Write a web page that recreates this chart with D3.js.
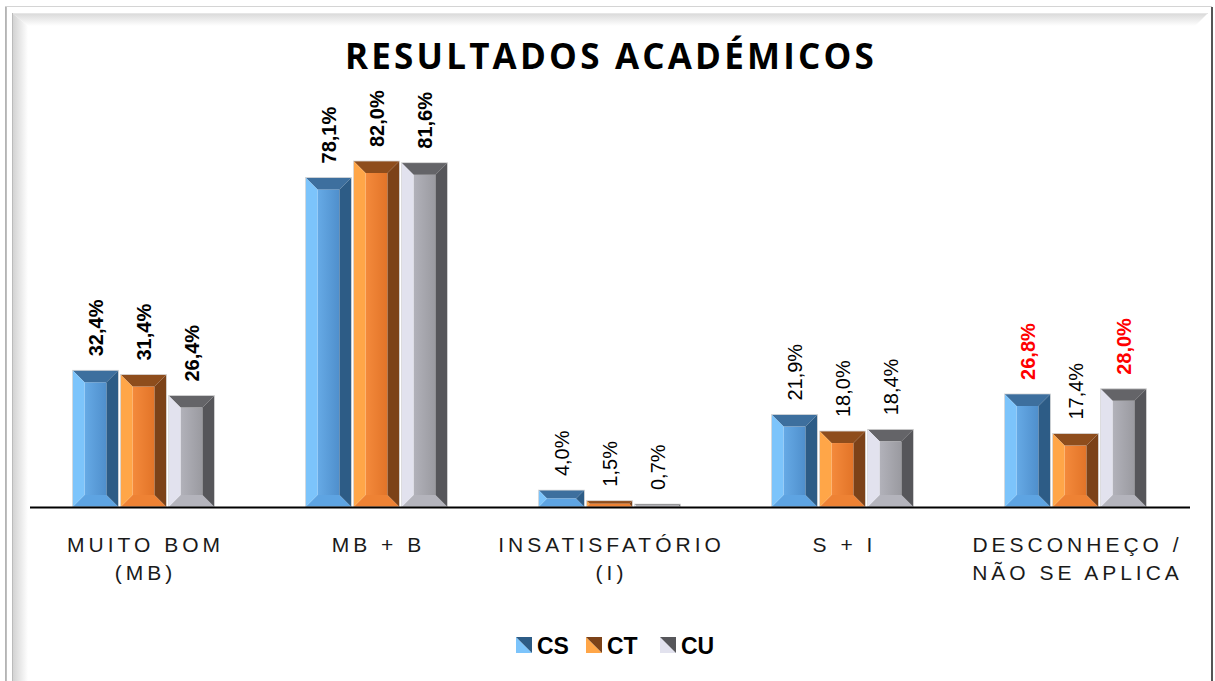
<!DOCTYPE html>
<html><head><meta charset="utf-8">
<script src="https://cdn.jsdelivr.net/npm/d3@7"></script>
<style>html,body{margin:0;padding:0;background:#fff;}svg{display:block;}</style>
</head><body>
<svg id="chart" width="1215" height="681"></svg>
<script>
const categories = [["MUITO BOM","(MB)"],["MB + B"],["INSATISFATÓRIO","(I)"],["S + I"],["DESCONHEÇO /","NÃO SE APLICA"]];
const seriesNames = ["CS","CT","CU"];
const csValues = [32.4, 78.1, 4.0, 21.9, 26.8];
const ctValues = [31.4, 82.0, 1.5, 18.0, 17.4];
const cuValues = [26.4, 81.6, 0.7, 18.4, 28.0];
const boldGroups = [0, 1];
const redLabels = [[4,"CS"],[4,"CU"]];

const values = {CS: csValues, CT: ctValues, CU: cuValues};
const W = 1215, H = 681;
const svg = d3.select("#chart");
const defs = svg.append("defs");

const pal = {
  CS: {c1:"#66aae6", c2:"#4f8fcc", left:"#7cc4fb", right:"#2d5c86", top:"#3d6f9e", bottom:"#5ea4e2", lt:"#7cc4fb", dk:"#2d5c86"},
  CT: {c1:"#f48a3c", c2:"#e27428", left:"#ffa648", right:"#7c4218", top:"#8e4d1c", bottom:"#ee8234", lt:"#ffa648", dk:"#7c4218"},
  CU: {c1:"#b2b2ba", c2:"#9a9aa0", left:"#e2e2ee", right:"#56565a", top:"#646468", bottom:"#b4b4bc", lt:"#e2e2ee", dk:"#56565a"}
};
seriesNames.forEach(s => {
  const p = pal[s];
  const g = defs.append("linearGradient").attr("id","ctr"+s).attr("x1",0).attr("x2",1).attr("y1",0).attr("y2",0);
  g.append("stop").attr("offset",0).attr("stop-color",p.c1);
  g.append("stop").attr("offset",1).attr("stop-color",p.c2);
});
const fg1 = defs.append("linearGradient").attr("id","ftop").attr("x1",0).attr("x2",0).attr("y1",0).attr("y2",1);
fg1.append("stop").attr("offset",0).attr("stop-color","#d8d8d8");
fg1.append("stop").attr("offset",1).attr("stop-color","#ffffff");
const fg2 = defs.append("linearGradient").attr("id","fleft").attr("x1",0).attr("x2",1).attr("y1",0).attr("y2",0);
fg2.append("stop").attr("offset",0).attr("stop-color","#d0d0d0");
fg2.append("stop").attr("offset",1).attr("stop-color","#ffffff");

svg.append("rect").attr("x",0).attr("y",0).attr("width",W).attr("height",H).attr("fill","#fff");
svg.append("rect").attr("x",5.5).attr("y",6.5).attr("width",1206).attr("height",680).attr("fill","none").attr("stroke","#d4d4d4").attr("stroke-width",1);
svg.append("line").attr("x1",1212).attr("x2",1212).attr("y1",7).attr("y2",681).attr("stroke","#555").attr("stroke-width",2);
svg.append("line").attr("x1",6).attr("x2",6).attr("y1",7).attr("y2",681).attr("stroke","#aaa").attr("stroke-width",1.5);
svg.append("polygon").attr("points","12,13 1208,13 1195,26 28,26").attr("fill","url(#ftop)");
svg.append("polygon").attr("points","12,13 28,26 28,681 12,681").attr("fill","url(#fleft)");
svg.append("line").attr("x1",12).attr("x2",1208).attr("y1",13.5).attr("y2",13.5).attr("stroke","#e6e6e6");
svg.append("line").attr("x1",12.5).attr("x2",12.5).attr("y1",13).attr("y2",681).attr("stroke","#bbb");

svg.append("text").attr("x",611).attr("y",69).attr("text-anchor","middle")
  .attr("font-family","'Open Sans','Liberation Sans',sans-serif").attr("font-weight","bold")
  .attr("font-size",35).attr("letter-spacing","3.2px").attr("fill","#000")
  .text("RESULTADOS ACADÉMICOS");

const x0 = d3.scaleBand().domain(d3.range(categories.length)).range([27,1192]).paddingInner(0).paddingOuter(0);
const barW = 46, gap = 2;
const x1 = d3.scaleBand().domain(seriesNames).range([-(3*barW+2*gap)/2, (3*barW+2*gap)/2]).paddingInner(gap/(barW+gap)).paddingOuter(0);
const y = d3.scaleLinear().domain([0, 82]).range([507, 161]);

const gBars = svg.append("g");
categories.forEach((cat, i) => {
  const cx = x0(i) + x0.bandwidth()/2;
  seriesNames.forEach(s => {
    const v = values[s][i];
    const xa = cx + x1(s), xb = xa + x1.bandwidth();
    const ya = y(v), yb = y(0);
    const p = pal[s];
    const b = Math.min(12, (yb-ya)/2, (xb-xa)/2);
    const g = gBars.append("g");
    g.append("rect").attr("x",xa+b).attr("y",ya+b).attr("width",xb-xa-2*b).attr("height",Math.max(0,yb-ya-2*b)).attr("fill","url(#ctr"+s+")");
    g.append("polygon").attr("points",[[xa,ya],[xb,ya],[xb-b,ya+b],[xa+b,ya+b]].join(" ")).attr("fill",p.top);
    g.append("polygon").attr("points",[[xa,yb],[xb,yb],[xb-b,yb-b],[xa+b,yb-b]].join(" ")).attr("fill",p.bottom);
    g.append("polygon").attr("points",[[xa,ya],[xa+b,ya+b],[xa+b,yb-b],[xa,yb]].join(" ")).attr("fill",p.left);
    g.append("polygon").attr("points",[[xb,ya],[xb-b,ya+b],[xb-b,yb-b],[xb,yb]].join(" ")).attr("fill",p.right);
    g.append("rect").attr("x",xa).attr("y",ya).attr("width",xb-xa).attr("height",yb-ya).attr("fill","none").attr("stroke","#d8d8d8").attr("stroke-width",0.8);

    const bold = boldGroups.includes(i) || redLabels.some(r => r[0]===i && r[1]===s);
    const red = redLabels.some(r => r[0]===i && r[1]===s);
    const lx = (xa+xb)/2 + 7, ly = ya - 14;
    svg.append("text").attr("transform",`translate(${lx},${ly}) rotate(-90)`)
      .attr("font-family","'Liberation Sans',Arial,sans-serif").attr("font-size",20)
      .attr("font-weight", bold ? "bold" : "normal").attr("fill", red ? "#ff0000" : "#000")
      .text(d3.format(".1f")(v).replace(".", ",") + "%");
  });
});

svg.append("line").attr("x1",30).attr("x2",1190).attr("y1",507.5).attr("y2",507.5).attr("stroke","#000").attr("stroke-width",2);

categories.forEach((cat, i) => {
  const cx = x0(i) + x0.bandwidth()/2;
  cat.forEach((line, j) => {
    svg.append("text").attr("x",cx + 2).attr("y",552 + j*28).attr("text-anchor","middle")
      .attr("font-family","'Liberation Sans',Arial,sans-serif").attr("font-size",21)
      .attr("letter-spacing","4px").attr("fill","#1a1a1a").text(line);
  });
});

const legX = [516, 586, 660];
seriesNames.forEach((s, k) => {
  const p = pal[s];
  const lx = legX[k], ly = 637;
  svg.append("polygon").attr("points",[[lx,ly],[lx,ly+16],[lx+16,ly+16]].join(" ")).attr("fill",p.lt);
  svg.append("polygon").attr("points",[[lx,ly],[lx+16,ly],[lx+16,ly+16]].join(" ")).attr("fill",p.dk);
  svg.append("text").attr("x",lx+21).attr("y",ly+17).attr("font-family","'Liberation Sans',Arial,sans-serif")
    .attr("font-weight","bold").attr("font-size",23).attr("fill","#000").text(s);
});
</script>
</body></html>
